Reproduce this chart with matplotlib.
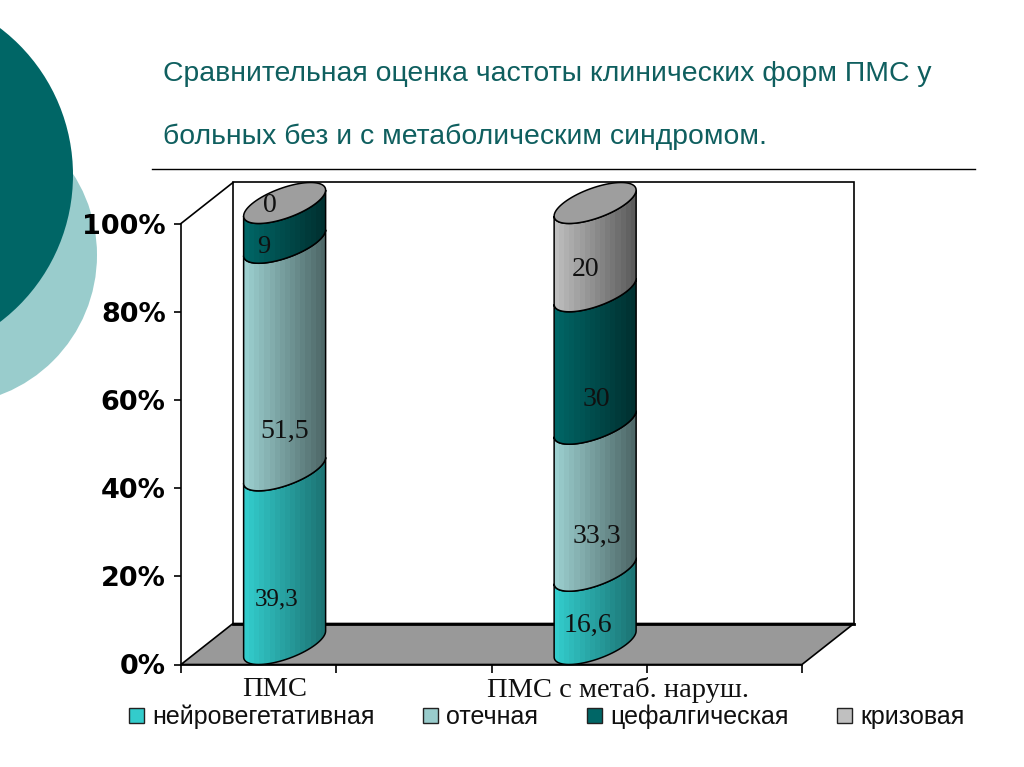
# -*- coding: utf-8 -*-
# Stacked 100% cylinder chart, drawn as oblique 3D on a normal axes
import numpy as np
import matplotlib
matplotlib.use('Agg')
import matplotlib.pyplot as plt
from matplotlib.patches import Circle, Polygon, Patch
from matplotlib.colors import to_rgb

# Data
title_lines = ['Сравнительная оценка частоты клинических форм ПМС у',
               'больных без и с метаболическим синдромом.']
categories = ['ПМС', 'ПМС с метаб. наруш.']
series_names = ['нейровегетативная', 'отечная', 'цефалгическая', 'кризовая']
bar_1 = [39.3, 51.5, 9, 0]
bar_2 = [16.6, 33.3, 30, 20]
bar_1_labels = ['39,3', '51,5', '9', '0']
bar_2_labels = ['16,6', '33,3', '30', '20']
percent_ticks = [0, 20, 40, 60, 80, 100]
percent_labels = ['0%', '20%', '40%', '60%', '80%', '100%']

# Styles
W, H = 1024, 767
left_colors = ['#33CCCC', '#9CCFCF', '#006666', '#BEBEBE']
right_colors = ['#1C7474', '#4E6868', '#003030', '#5C5C5C']
swatch_colors = ['#33CCCC', '#99CCCC', '#006666', '#C0C0C0']
cap_color = '#9E9E9E'
floor_color = '#999999'
title_color = '#0F5F5F'
label_offsets_1 = [(-8, -42), (0, -75), (-21, -24), (-15, -2)]
label_offsets_2 = [(-7, -18), (2, -39), (1, -42), (-10, -22)]
label_sizes_1 = [18, 20, 19, 20]
label_sizes_2 = [20, 20, 20, 20]

fig = plt.figure(figsize=(W / 100, H / 100), dpi=100, facecolor='white')

# Background: page decoration in pixel coordinates
bg = fig.add_axes([0, 0, 1, 1])
bg.set_xlim(0, W)
bg.set_ylim(H, 0)
bg.axis('off')
bg.add_patch(Circle((-52.5, 255), 149.5, color='#99CCCC', lw=0))
bg.add_patch(Circle((-111.5, 175), 184.5, color='#006666', lw=0))
bg.plot([152, 975], [169, 169], color='black', lw=1)
bg.text(163, 74, title_lines[0], fontsize=20.4, family='Liberation Sans', color=title_color, va='center')
bg.text(163, 137, title_lines[1], fontsize=20.4, family='Liberation Sans', color=title_color, va='center')

# Chart axes: x in category slots, y in percent, this is the front plane
x0, x1, y_top, y_bot = 181, 802, 223.5, 664.5
ax = fig.add_axes([x0 / W, 1 - y_bot / H, (x1 - x0) / W, (y_bot - y_top) / H])
ax.patch.set_alpha(0)
n_slots = 4
slot_px = (x1 - x0) / n_slots
pct_px = (y_bot - y_top) / 100

# Depth of the floor, in axes data units
depth_x = 52 / slot_px
depth_y = 41 / pct_px
wall = Polygon([(depth_x, depth_y), (depth_x, 100 + depth_y), (n_slots + depth_x, 100 + depth_y),
                (n_slots + depth_x, depth_y)], closed=True, fc='white', ec='black', lw=1.2, zorder=1, clip_on=False)
ax.add_patch(wall)
floor = Polygon([(0, 0), (depth_x, depth_y), (n_slots + depth_x, depth_y), (n_slots, 0)], closed=True,
                fc=floor_color, ec='black', lw=1.2, zorder=2, clip_on=False)
ax.add_patch(floor)
ax.plot([depth_x, n_slots + depth_x], [depth_y, depth_y], color='black', lw=2, zorder=2, clip_on=False)
ax.plot([0, depth_x], [100, 100 + depth_y], color='black', lw=1.2, zorder=2, clip_on=False)


def ring(xc, yc, t):
    # skewed ellipse of a round section, half width 31.7 px plus half of the depth vector
    return (xc + 31.7 / slot_px * np.cos(t) + depth_x / 2 * np.sin(t),
            yc + depth_y / 2 * np.sin(t))


t_right = np.arctan2(depth_x * slot_px / 2, 31.7)
t_front = np.linspace(t_right + np.pi, t_right + 2 * np.pi, 40)


def draw_cylinder(slot, values, labels, offsets, sizes):
    xc = slot + 0.5 + depth_x / 2
    scale = 100 / sum(values)
    bottom = depth_y / 2
    for i, v in enumerate(values):
        top = bottom + v * scale
        if v > 0:
            xa, ya = ring(xc, bottom, t_front)
            xb, yb = ring(xc, top, t_front[::-1])
            shape = Polygon(np.column_stack([np.r_[xa, xb], np.r_[ya, yb]]), closed=True, fc='none',
                            ec='black', lw=1.1, zorder=4 + i, clip_on=False)
            ax.add_patch(shape)
            ramp = np.linspace(to_rgb(left_colors[i]), to_rgb(right_colors[i]), 16)[np.newaxis, :, :]
            im = ax.imshow(ramp, extent=[xa.min(), xa.max(), ya.min(), yb.max()], aspect='auto',
                           interpolation='nearest', zorder=3 + i, origin='lower')
            im.set_clip_box(fig.bbox)
            im.set_clip_path(shape)
        ax.annotate(labels[i], (xc, (bottom + top) / 2), xytext=offsets[i], textcoords='offset pixels',
                    ha='center', va='center', fontsize=sizes[i], family='Liberation Serif', color='#101010',
                    zorder=12, annotation_clip=False)
        bottom = top
    # top face
    t = np.linspace(0, 2 * np.pi, 80)
    xa, ya = ring(xc, bottom, t)
    ax.add_patch(Polygon(np.column_stack([xa, ya]), closed=True, fc=cap_color, ec='black', lw=1.1,
                         zorder=10, clip_on=False))


draw_cylinder(0, bar_1, bar_1_labels, label_offsets_1, label_sizes_1)
draw_cylinder(2, bar_2, bar_2_labels, label_offsets_2, label_sizes_2)

ax.set_xlim(0, n_slots)
ax.set_ylim(0, 100)
for side in ['top', 'right']:
    ax.spines[side].set_visible(False)
for side in ['left', 'bottom']:
    ax.spines[side].set_linewidth(1.2)
    ax.spines[side].set_zorder(3)
ax.set_yticks(percent_ticks, labels=percent_labels, fontsize=19.5, fontweight='bold', family='DejaVu Sans')
ax.tick_params(axis='y', length=5, width=1.2, pad=6)
ax.set_xticks(range(n_slots + 1), labels=[''] * (n_slots + 1))
ax.tick_params(axis='x', which='major', length=6, width=1.2)
ax.set_xticks([0.6, 2.815], labels=categories, minor=True, fontsize=20.5, family='Liberation Serif')
ax.tick_params(axis='x', which='minor', length=0, pad=9, colors='#101010')

# Legend
handles = [Patch(fc=c, ec='#222222', lw=1) for c in swatch_colors]
fig.legend(handles, series_names, ncol=4, frameon=False, loc='center', bbox_to_anchor=(547 / W, 1 - 717 / H),
           prop={'family': 'Liberation Sans', 'size': 18}, handlelength=0.6, handleheight=0.6,
           handletextpad=0.32, columnspacing=1.95, labelcolor='#101010', borderpad=0, borderaxespad=0)

plt.savefig('out.png', dpi=100)
